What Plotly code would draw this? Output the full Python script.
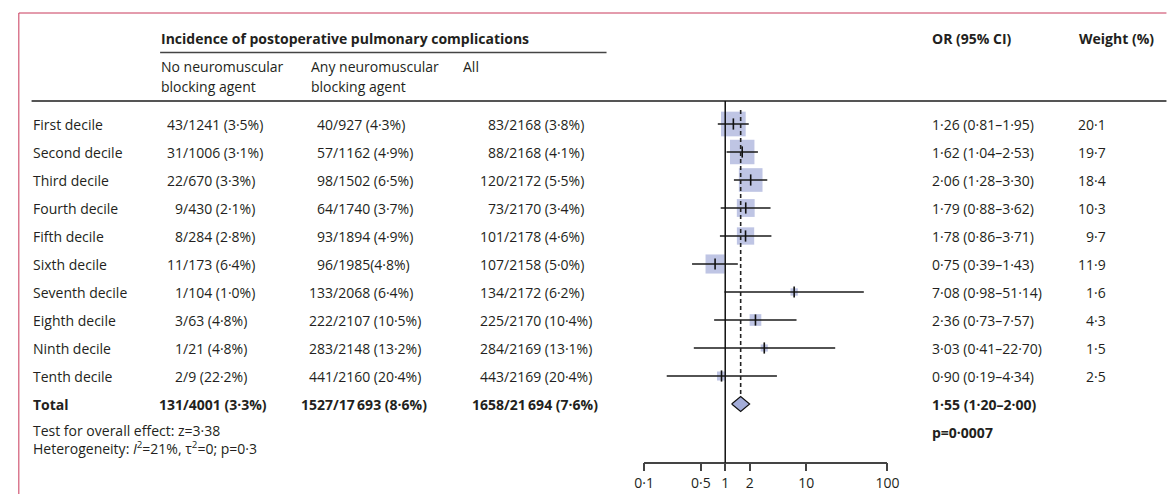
import math
import plotly.graph_objects as go

# ---------------- data ----------------
row_labels = ["First decile", "Second decile", "Third decile", "Fourth decile", "Fifth decile",
              "Sixth decile", "Seventh decile", "Eighth decile", "Ninth decile", "Tenth decile"]
no_nmba = ["43/1241 (3·5%)", "31/1006 (3·1%)", "22/670 (3·3%)", "9/430 (2·1%)", "8/284 (2·8%)",
           "11/173 (6·4%)", "1/104 (1·0%)", "3/63 (4·8%)", "1/21 (4·8%)", "2/9 (22·2%)"]
any_nmba = ["40/927 (4·3%)", "57/1162 (4·9%)", "98/1502 (6·5%)", "64/1740 (3·7%)", "93/1894 (4·9%)",
            "96/1985(4·8%)", "133/2068 (6·4%)", "222/2107 (10·5%)", "283/2148 (13·2%)", "441/2160 (20·4%)"]
all_pts = ["83/2168 (3·8%)", "88/2168 (4·1%)", "120/2172 (5·5%)", "73/2170 (3·4%)", "101/2178 (4·6%)",
           "107/2158 (5·0%)", "134/2172 (6·2%)", "225/2170 (10·4%)", "284/2169 (13·1%)", "443/2169 (20·4%)"]
or_est = [1.26, 1.62, 2.06, 1.79, 1.78, 0.75, 7.08, 2.36, 3.03, 0.90]
or_lo = [0.81, 1.04, 1.28, 0.88, 0.86, 0.39, 0.98, 0.73, 0.41, 0.19]
or_hi = [1.95, 2.53, 3.30, 3.62, 3.71, 1.43, 51.14, 7.57, 22.70, 4.34]
weights = [20.1, 19.7, 18.4, 10.3, 9.7, 11.9, 1.6, 4.3, 1.5, 2.5]

total_label = "Total"
total_no = "131/4001 (3·3%)"
total_any = "1527/17\u2009693 (8·6%)"
total_all = "1658/21\u2009694 (7·6%)"
total_or = 1.55
total_lo = 1.20
total_hi = 2.00
p_text = "p=0·0007"
test_text = "Test for overall effect: z=3·38"
het_text = "Heterogeneity: <i>I</i><sup>2</sup>=21%, τ<sup>2</sup>=0; p=0·3"

tick_vals = [0.1, 0.5, 1, 2, 10, 100]
tick_text = ["0·1", "0·5", "1", "2", "10", "100"]

# ---------------- layout helpers ----------------
W, H = 1167, 494
ROW0, ROWH = 124, 28
def py(p):  # pixel y -> row units
    return (p - ROW0) / ROWH
def px(p):  # pixel x -> paper
    return p / W

FONT = "Open Sans"
TXT = "#231f20"
FS = 14
BAR = "#a4add9"

def fmt(v, d=2):
    return f"{v:.{d}f}".replace(".", "·")

fig = go.Figure()
n = len(row_labels)
ys = list(range(n))

# squares
fig.add_trace(go.Scatter(
    x=or_est, y=ys, mode="markers",
    marker=dict(symbol="square", size=[5.4 * math.sqrt(w) + 0.5 for w in weights],
                color=BAR, line=dict(width=0)),
    hoverinfo="skip", showlegend=False, cliponaxis=False))

# CI lines
cx, cy = [], []
for lo, hi, y in zip(or_lo, or_hi, ys):
    cx += [lo, hi, None]
    cy += [y, y, None]
fig.add_trace(go.Scatter(x=cx, y=cy, mode="lines", line=dict(color="#1a1a1a", width=1.4),
                         hoverinfo="skip", showlegend=False, cliponaxis=False))

# point ticks
fig.add_trace(go.Scatter(
    x=or_est, y=ys, mode="markers",
    marker=dict(symbol="line-ns", size=8, line=dict(width=1.6, color="#111")),
    hoverinfo="skip", showlegend=False, cliponaxis=False))

# diamond
dh = py(ROW0 + 7.5) - py(ROW0)
fig.add_trace(go.Scatter(
    x=[total_lo, total_or, total_hi, total_or, total_lo],
    y=[n, n - dh, n, n + dh, n], mode="lines", fill="toself", fillcolor=BAR,
    line=dict(color="#111", width=1.2), hoverinfo="skip", showlegend=False, cliponaxis=False))

shapes = []
# outer border (top and left)
shapes.append(dict(type="line", xref="paper", yref="paper", x0=px(9), x1=1.01,
                   y0=1 - 13 / H, y1=1 - 13 / H, line=dict(color="#c8385a", width=1)))
shapes.append(dict(type="line", xref="paper", yref="paper", x0=px(9), x1=px(9),
                   y0=1 - 13 / H, y1=-0.05, line=dict(color="#c8385a", width=1)))
# header rules
shapes.append(dict(type="line", xref="paper", yref="y", x0=px(153), x1=px(608),
                   y0=py(52.5), y1=py(52.5), line=dict(color="#444", width=1.5)))
shapes.append(dict(type="line", xref="paper", yref="y", x0=px(22), x1=1.01,
                   y0=py(101), y1=py(101), line=dict(color="#555", width=2.2)))
# line of no effect
shapes.append(dict(type="line", xref="x", yref="y", x0=1, x1=1,
                   y0=py(101), y1=py(462.7), line=dict(color="#111", width=1.5)))
# overall effect dashed line
shapes.append(dict(type="line", xref="x", yref="y", x0=total_or, x1=total_or,
                   y0=py(110), y1=n - dh, line=dict(color="#222", width=1.6, dash="4px,3px")))

ann = []
def T(x, y, text, anchor="left", bold=False, size=FS):
    if bold:
        text = f"<b>{text}</b>"
    ann.append(dict(xref="paper", yref="y", x=px(x), y=y, text=text, showarrow=False,
                    xanchor=anchor, yanchor="middle", borderpad=0, borderwidth=0,
                    font=dict(family=FONT, size=size, color=TXT)))

def slash_cell(xs, y, s, bold=False):
    num, rest = s.split("/", 1)
    T(xs, y, num, "right", bold)
    T(xs, y, "/" + rest, "left", bold)

# headers
T(154, py(38), "Incidence of postoperative pulmonary complications", bold=True)
T(154, py(66), "No neuromuscular")
T(154, py(86), "blocking agent")
T(307, py(66), "Any neuromuscular")
T(307, py(86), "blocking agent")
T(462, py(66), "All")
T(940, py(38), "OR (95% CI)", bold=True)
T(1090, py(38), "Weight (%)", bold=True)

COL1, COL2, COL3 = 176, 329, 503
for i in range(n):
    T(23, i, row_labels[i])
    slash_cell(COL1, i, no_nmba[i])
    slash_cell(COL2, i, any_nmba[i])
    slash_cell(COL3, i, all_pts[i])
    T(940, i, f"{fmt(or_est[i])} ({fmt(or_lo[i])}–{fmt(or_hi[i])})")
    T(1117, i, fmt(weights[i], 1), "right")

T(23, n, total_label, bold=True)
slash_cell(COL1, n, total_no, bold=True)
slash_cell(COL2, n, total_any, bold=True)
slash_cell(COL3, n, total_all, bold=True)
T(940, n, f"{fmt(total_or)} ({fmt(total_lo)}–{fmt(total_hi)})", bold=True)
T(940, py(432), p_text, bold=True)
T(23, py(430), test_text)
T(23, py(448), het_text)

fig.update_layout(
    width=W, height=H, margin=dict(l=0, r=0, t=0, b=0),
    paper_bgcolor="white", plot_bgcolor="rgba(0,0,0,0)",
    showlegend=False, shapes=shapes, annotations=ann,
    font=dict(family=FONT, size=FS, color=TXT),
    xaxis=dict(type="log", range=[-1, 2], domain=[px(646.3), px(894.3)],
               anchor="free", position=1 - 462.7 / H,
               showline=True, linecolor="#444", linewidth=1.5,
               ticks="outside", ticklen=8, tickwidth=1.5, tickcolor="#444",
               tickvals=tick_vals, ticktext=tick_text,
               tickfont=dict(family=FONT, size=FS, color=TXT),
               showgrid=False, zeroline=False, fixedrange=True),
    yaxis=dict(range=[py(H), py(0)], domain=[0, 1], visible=False,
               showgrid=False, zeroline=False, fixedrange=True),
)

fig.write_html("out.html", config={"displayModeBar": False},
               post_script="document.body.style.margin='0';document.body.style.padding='0';"
                           "document.body.style.overflow='hidden';")
